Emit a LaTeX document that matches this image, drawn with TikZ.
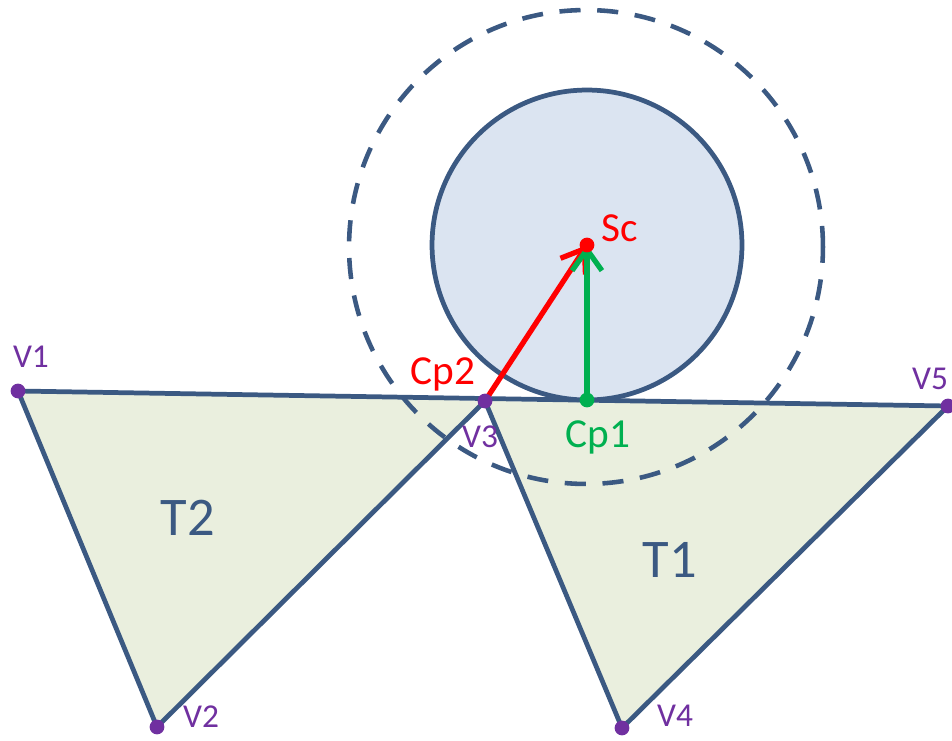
\documentclass[tikz,border=0pt]{standalone}
\usepackage{fontspec}
\setmainfont{Carlito}
\usepackage{tikz}
\usepackage{xcolor}
\usetikzlibrary{arrows.meta}
\definecolor{edgeblue}{RGB}{59,89,130}
\definecolor{ballfill}{RGB}{219,228,241}
\definecolor{trifill}{RGB}{234,239,222}
\definecolor{vpurple}{RGB}{112,48,160}
\definecolor{cpred}{RGB}{255,0,0}
\definecolor{cpgreen}{RGB}{0,176,80}

\begin{document}
\begin{tikzpicture}[x=0.02cm,y=-0.02cm,
  edge/.style={draw=edgeblue,line width=2.7pt,line join=round},
  vdot/.style={fill=vpurple},
  vlabel/.style={text=vpurple,font=\fontsize{19}{19}\selectfont},
  tlabel/.style={text=edgeblue,font=\fontsize{31}{31}\selectfont},
  plabel/.style={font=\fontsize{23.5}{23.5}\selectfont},
  vec/.style={line width=3pt,-{Straight Barb[length=12pt,width=17pt,line width=3pt]}}]
\useasboundingbox (0,0) rectangle (952,740);
\coordinate (v1) at (18,391);
\coordinate (v2) at (157,727);
\coordinate (v3) at (485,401);
\coordinate (v4) at (622,728);
\coordinate (v5) at (948,406);
\coordinate (sc) at (587,245);
\coordinate (cp1) at (587,400);
\fill[trifill] (v1) -- (v3) -- (v2) -- cycle;
\fill[trifill] (v3) -- (v5) -- (v4) -- cycle;
\draw[edge] (v1) -- (v5);
\draw[edge] (v1) -- (v2) -- (v3) -- (v4) -- (v5);
\filldraw[fill=ballfill,draw=edgeblue,line width=2.7pt] (sc) circle (3.1cm);
\draw[edgeblue,line width=2.6pt,dash pattern=on 12pt off 9.5pt] (586,247) circle (4.74cm);
\draw[vec,cpred] (v3) -- (sc);
\draw[vec,cpgreen] (cp1) -- (sc);
\fill[cpred] (sc) circle (4.2pt);
\fill[cpgreen] (cp1) circle (4.2pt);
\foreach \v in {v1,v2,v3,v4,v5} \fill[vdot] (\v) circle (4.2pt);
\node[vlabel] (l1) at (31,357) {V1};
\node[vlabel] (l2) at (201,717) {V2};
\node[vlabel] (l3) at (480,437) {V3};
\node[vlabel] (l4) at (675,716) {V4};
\node[vlabel] (l5) at (930,379) {V5};
\node[tlabel] (t1) at (670,560) {T1};
\node[tlabel] (t2) at (188,518) {T2};
\node[plabel,text=cpred] (lsc) at (620,228) {Sc};
\node[plabel,text=cpred] (lcp2) at (443,374) {Cp2};
\node[plabel,text=cpgreen] (lcp1) at (598,437) {Cp1};
\end{tikzpicture}
\end{document}
